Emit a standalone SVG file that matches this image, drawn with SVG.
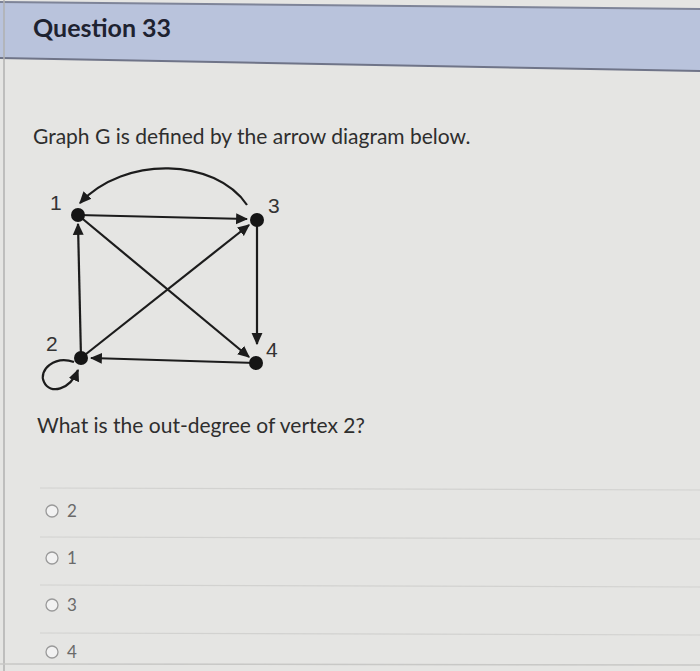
<svg xmlns="http://www.w3.org/2000/svg" width="700" height="671" viewBox="0 0 700 671">
<style>
.edge{stroke:#1c1c1c;stroke-width:2.2;fill:none}
.node{fill:#151515}
.vlab{font-family:"Liberation Sans",Arial,sans-serif;font-size:21px;fill:#333}
.body{font-family:Lato,"Liberation Sans",sans-serif;font-size:21px;fill:#2e2e2e}
.opt{font-family:Lato,"Liberation Sans",sans-serif;font-size:17px;fill:#6a6a6a}
.radio{fill:#f2f2f2;stroke:#9a9a9a;stroke-width:1.3}
.sep{stroke:#d2d2d0;stroke-width:1.2}
</style>
<defs>
<marker id="ah" viewBox="0 0 10 10" refX="9" refY="5" markerWidth="5.5" markerHeight="5.5" orient="auto" markerUnits="strokeWidth">
<path d="M0,0.5 L10,5 L0,9.5 z" fill="#1c1c1c"/>
</marker>
</defs>
<rect width="700" height="671" fill="#e5e5e3"/>
<polygon points="0,2 700,9 700,71 0,58" fill="#b9c3dc"/>
<line x1="0" y1="2" x2="700" y2="9" stroke="#7e8498" stroke-width="2"/>
<line x1="0" y1="58" x2="700" y2="71" stroke="#6f7488" stroke-width="2"/>
<line x1="4" y1="0" x2="4" y2="671" stroke="#b0b0b0" stroke-width="1.5"/>
<text x="33" y="37" font-family="Lato,'Liberation Sans',sans-serif" font-size="25" font-weight="bold" fill="#1e2230">Question 33</text>
<text class="body" x="33" y="144">Graph G is defined by the arrow diagram below.</text>
<g id="edges">
<line class="edge" x1="78" y1="215" x2="247" y2="219" marker-end="url(#ah)"/>
<line class="edge" x1="81" y1="358" x2="78" y2="224" marker-end="url(#ah)"/>
<line class="edge" x1="81" y1="358" x2="249" y2="225" marker-end="url(#ah)"/>
<line class="edge" x1="78" y1="215" x2="249" y2="357" marker-end="url(#ah)"/>
<line class="edge" x1="257" y1="220" x2="257" y2="344" marker-end="url(#ah)"/>
<line class="edge" x1="256" y1="363" x2="91" y2="358" marker-end="url(#ah)"/>
<path class="edge" d="M247,205 C215,158 125,155 80,203" marker-end="url(#ah)"/>
<path class="edge" d="M74,362 C55,355 38,370 44,382 C50,395 70,390 78,370" marker-end="url(#ah)"/>
</g>
<g id="n1"><circle class="node" cx="78" cy="215" r="7"/><text class="vlab" x="50" y="210">1</text></g>
<g id="n3"><circle class="node" cx="257" cy="220" r="7"/><text class="vlab" x="268" y="213">3</text></g>
<g id="n2"><circle class="node" cx="81" cy="358" r="7"/><text class="vlab" x="46" y="351">2</text></g>
<g id="n4"><circle class="node" cx="256" cy="363" r="7"/><text class="vlab" x="266" y="357">4</text></g>
<text class="body" x="37" y="433">What is the out-degree of vertex 2?</text>
<line class="sep" x1="40" y1="488" x2="700" y2="490"/>
<line class="sep" x1="40" y1="537" x2="700" y2="539"/>
<line class="sep" x1="40" y1="585" x2="700" y2="587"/>
<line class="sep" x1="40" y1="633" x2="700" y2="635"/>
<line x1="0" y1="664" x2="700" y2="665" stroke="#c8c8c6" stroke-width="1.5"/>
<g id="opt1"><circle class="radio" cx="52" cy="511" r="6"/><text class="opt" x="67" y="517">2</text></g>
<g id="opt2"><circle class="radio" cx="52" cy="558" r="6"/><text class="opt" x="67" y="564">1</text></g>
<g id="opt3"><circle class="radio" cx="52" cy="605" r="6"/><text class="opt" x="67" y="611">3</text></g>
<g id="opt4"><circle class="radio" cx="52" cy="652" r="6"/><text class="opt" x="67" y="658">4</text></g>
</svg>
